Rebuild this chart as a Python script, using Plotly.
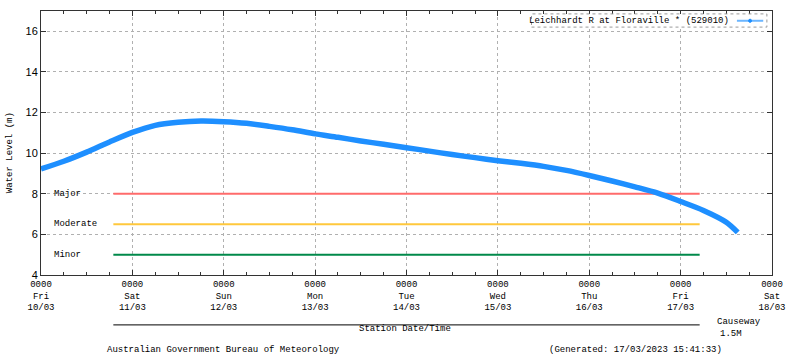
import plotly.graph_objects as go

# ---- data ----
times = [
    "2023-03-10 00:00", "2023-03-10 06:00", "2023-03-10 12:00", "2023-03-10 18:00",
    "2023-03-11 00:00", "2023-03-11 06:00", "2023-03-11 12:00", "2023-03-11 18:00",
    "2023-03-12 00:00", "2023-03-12 06:00", "2023-03-12 12:00", "2023-03-12 18:00",
    "2023-03-13 00:00", "2023-03-13 06:00", "2023-03-13 12:00", "2023-03-13 18:00",
    "2023-03-14 00:00", "2023-03-14 06:00", "2023-03-14 12:00", "2023-03-14 18:00",
    "2023-03-15 00:00", "2023-03-15 06:00", "2023-03-15 12:00", "2023-03-15 18:00",
    "2023-03-16 00:00", "2023-03-16 06:00", "2023-03-16 12:00", "2023-03-16 18:00",
    "2023-03-17 00:00", "2023-03-17 06:00", "2023-03-17 12:00", "2023-03-17 15:00",
]
levels = [
    9.22, 9.60, 10.05, 10.55,
    11.02, 11.37, 11.52, 11.58,
    11.55, 11.47, 11.32, 11.15,
    10.95, 10.78, 10.60, 10.44,
    10.27, 10.10, 9.93, 9.78,
    9.63, 9.50, 9.35, 9.15,
    8.90, 8.63, 8.34, 8.03,
    7.62, 7.18, 6.60, 6.10,
]
series_name = "Leichhardt R at Floraville * (529010)"

flood_names = ["Major", "Moderate", "Minor"]
flood_levels = [8.0, 6.5, 5.0]
flood_colors = ["#ff6b6b", "#ffc83c", "#00894a"]
flood_start = "2023-03-10 19:00"
flood_end = "2023-03-17 05:00"

tick_dates = ["2023-03-10", "2023-03-11", "2023-03-12", "2023-03-13", "2023-03-14",
              "2023-03-15", "2023-03-16", "2023-03-17", "2023-03-18"]
tick_days = ["Fri", "Sat", "Sun", "Mon", "Tue", "Wed", "Thu", "Fri", "Sat"]
tick_dm = ["10/03", "11/03", "12/03", "13/03", "14/03", "15/03", "16/03", "17/03", "18/03"]
tick_text = ["0000<br>%s<br>%s" % (d, dm) for d, dm in zip(tick_days, tick_dm)]

y_ticks = [4, 6, 8, 10, 12, 14, 16]

MONO = "Liberation Mono, DejaVu Sans Mono, monospace"
SANS = "Liberation Sans, Arial, sans-serif"
BLUE = "#1e8fff"

fig = go.Figure()

for name, lvl, col in zip(flood_names, flood_levels, flood_colors):
    fig.add_trace(go.Scatter(x=[flood_start, flood_end], y=[lvl, lvl], mode="lines",
                             line=dict(color=col, width=2), showlegend=False,
                             hoverinfo="skip"))
    fig.add_annotation(x=0.015, xref="paper", y=lvl, yref="y", text=name,
                       showarrow=False, xanchor="left", yanchor="middle",
                       font=dict(family=MONO, size=9, color="#000"))

fig.add_trace(go.Scatter(x=times, y=levels, mode="lines", name=series_name,
                         line=dict(color=BLUE, width=5.5, shape="spline", smoothing=0.8),
                         showlegend=False))

fig.update_layout(
    width=800, height=358,
    margin=dict(l=41, r=28, t=11, b=83, autoexpand=False),
    paper_bgcolor="white", plot_bgcolor="white",
    showlegend=False,
    xaxis=dict(
        type="date", range=["2023-03-10 00:00", "2023-03-18 00:00"],
        tickmode="array", tickvals=tick_dates, ticktext=tick_text,
        ticks="inside", ticklen=5, tickcolor="#333",
        showgrid=True, gridcolor="#b0b0b0", griddash="dot", gridwidth=1,
        showline=True, linecolor="#333", linewidth=1, mirror="ticks",
        tickfont=dict(family=MONO, size=9, color="#000"),
        minor=dict(dtick=6 * 3600 * 1000, tick0="2023-03-10", ticks="inside",
                   ticklen=3, tickcolor="#333", showgrid=False),
        zeroline=False, automargin=False,
    ),
    yaxis=dict(
        range=[4, 17], tickvals=y_ticks,
        ticks="inside", ticklen=5, tickcolor="#333",
        showgrid=True, gridcolor="#b0b0b0", griddash="dot", gridwidth=1,
        showline=True, linecolor="#333", linewidth=1, mirror="ticks",
        tickfont=dict(family=SANS, size=11, color="#000"),
        zeroline=False, automargin=False,
    ),
)

# y-axis title
fig.add_annotation(x=-0.0424, xref="paper", y=10, yref="y", text="Water Level (m)",
                   textangle=-90, showarrow=False, xanchor="center", yanchor="middle",
                   font=dict(family=MONO, size=9, color="#000"))

# custom legend (symbol right of text, dotted box)
fig.add_shape(type="rect", xref="paper", yref="paper", x0=0.671, x1=0.993,
              y0=0.939, y1=0.989, line=dict(color="#999", width=1, dash="dot"),
              fillcolor="white", layer="above")
fig.add_annotation(x=0.944, xref="paper", y=0.963, yref="paper", text=series_name,
                   showarrow=False, xanchor="right", yanchor="middle",
                   font=dict(family=MONO, size=9, color="#000"))
fig.add_shape(type="line", xref="paper", yref="paper", x0=0.952, x1=0.988,
              y0=0.963, y1=0.963, line=dict(color="#6cb6ff", width=2), layer="above")
fig.add_shape(type="circle", xref="paper", yref="paper", x0=0.968, x1=0.972,
              y0=0.957, y1=0.969, line=dict(color=BLUE, width=1), fillcolor=BLUE,
              layer="above")

# x-axis label decoration
fig.add_shape(type="line", xref="x", yref="paper", x0=flood_start, x1=flood_end,
              y0=-0.189, y1=-0.189, line=dict(color="#000", width=1))
fig.add_annotation(x=0.498, xref="paper", y=-0.205, yref="paper", text="Station Date/Time",
                   showarrow=False, xanchor="center", yanchor="middle",
                   font=dict(family=MONO, size=9, color="#000"))
fig.add_annotation(x=0.922, xref="paper", y=-0.178, yref="paper", text="Causeway",
                   showarrow=False, xanchor="left", yanchor="middle",
                   font=dict(family=MONO, size=9, color="#000"))
fig.add_annotation(x=0.962, xref="paper", y=-0.224, yref="paper", text="1.5M",
                   showarrow=False, xanchor="right", yanchor="middle",
                   font=dict(family=MONO, size=9, color="#000"))

# footer
fig.add_annotation(x=0.25, xref="paper", y=-0.284, yref="paper",
                   text="Australian Government Bureau of Meteorology",
                   showarrow=False, xanchor="center", yanchor="middle",
                   font=dict(family=MONO, size=9, color="#000"))
fig.add_annotation(x=0.813, xref="paper", y=-0.284, yref="paper",
                   text="(Generated: 17/03/2023 15:41:33)",
                   showarrow=False, xanchor="center", yanchor="middle",
                   font=dict(family=MONO, size=9, color="#000"))

# remove the default page margin so the figure fills the 800x358 window exactly
fig.write_html("out.html", config={"displayModeBar": False},
               post_script="document.body.style.margin='0';document.body.style.overflow='hidden';")
